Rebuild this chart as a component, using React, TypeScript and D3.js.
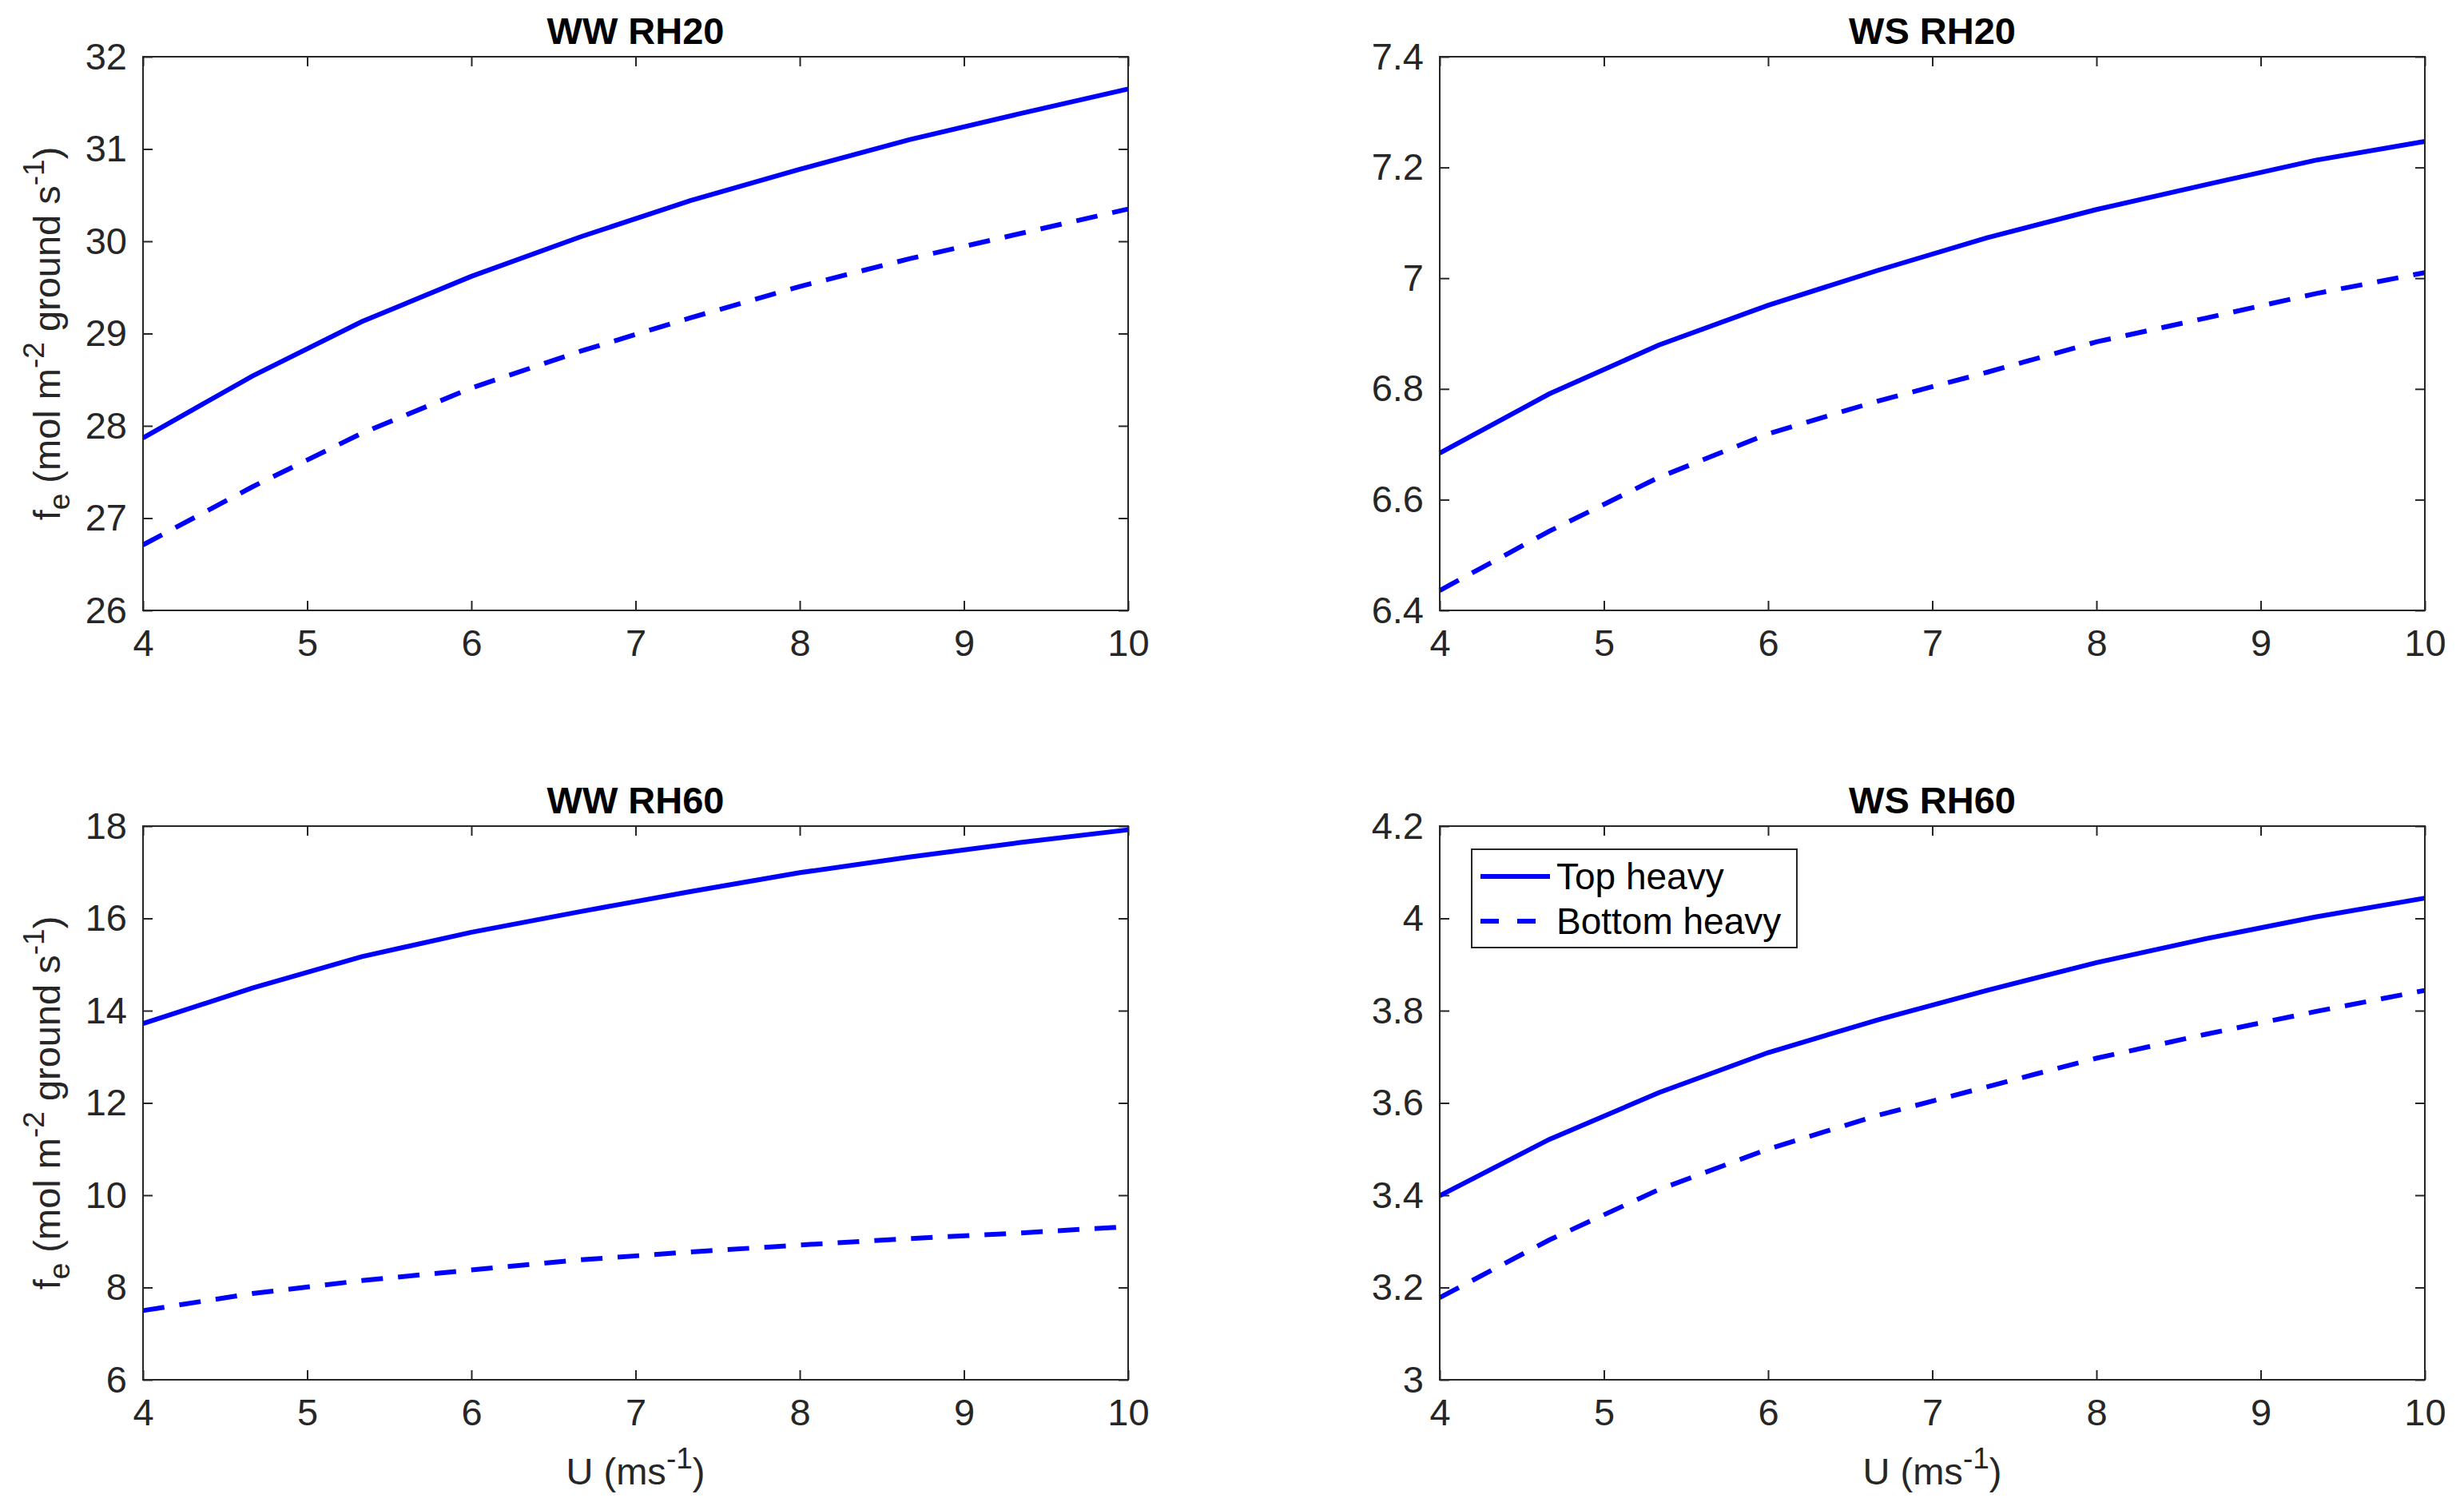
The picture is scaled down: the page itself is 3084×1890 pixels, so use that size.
import React, { useEffect, useRef } from 'react';
import * as d3 from 'd3';

// wind speed samples (10 points, 4..10)
const uValues = [4, 4.667, 5.333, 6, 6.667, 7.333, 8, 8.667, 9.333, 10];
const xTicks = [4, 5, 6, 7, 8, 9, 10];

const panelTitles = ['WW RH20', 'WS RH20', 'WW RH60', 'WS RH60'];

const wwRh20Top = [27.87, 28.54, 29.13, 29.62, 30.05, 30.44, 30.78, 31.1, 31.38, 31.65];
const wwRh20Bottom = [26.71, 27.34, 27.92, 28.41, 28.81, 29.17, 29.51, 29.81, 30.08, 30.35];
const wsRh20Top = [6.684, 6.791, 6.879, 6.951, 7.014, 7.073, 7.124, 7.169, 7.213, 7.247];
const wsRh20Bottom = [6.436, 6.543, 6.64, 6.719, 6.778, 6.83, 6.885, 6.928, 6.972, 7.01];
const wwRh60Top = [13.72, 14.49, 15.17, 15.7, 16.15, 16.58, 16.99, 17.33, 17.64, 17.92];
const wwRh60Bottom = [7.5, 7.87, 8.15, 8.38, 8.6, 8.77, 8.92, 9.06, 9.18, 9.32];
const wsRh60Top = [3.399, 3.521, 3.622, 3.709, 3.78, 3.844, 3.904, 3.956, 4.003, 4.044];
const wsRh60Bottom = [3.178, 3.303, 3.412, 3.5, 3.573, 3.635, 3.697, 3.749, 3.798, 3.844];

const yTicksWwRh20 = [26, 27, 28, 29, 30, 31, 32];
const yTicksWsRh20 = [6.4, 6.6, 6.8, 7, 7.2, 7.4];
const yTicksWwRh60 = [6, 8, 10, 12, 14, 16, 18];
const yTicksWsRh60 = [3, 3.2, 3.4, 3.6, 3.8, 4, 4.2];

const seriesNames = ['Top heavy', 'Bottom heavy'];

const panels = [
  { title: panelTitles[0], top: wwRh20Top, bottom: wwRh20Bottom, yTicks: yTicksWwRh20, col: 0, row: 0 },
  { title: panelTitles[1], top: wsRh20Top, bottom: wsRh20Bottom, yTicks: yTicksWsRh20, col: 1, row: 0 },
  { title: panelTitles[2], top: wwRh60Top, bottom: wwRh60Bottom, yTicks: yTicksWwRh60, col: 0, row: 1 },
  { title: panelTitles[3], top: wsRh60Top, bottom: wsRh60Bottom, yTicks: yTicksWsRh60, col: 1, row: 1 },
];

const WIDTH = 3084;
const HEIGHT = 1890;
const FONT = '"Liberation Sans", Arial, Helvetica, sans-serif';
const TEXT_COLOR = '#262626';
const LINE_COLOR = '#0000ff';

export default function App() {
  const svgRef = useRef<SVGSVGElement>(null);

  useEffect(() => {
    if (!svgRef.current) return;
    const svg = d3.select(svgRef.current);
    svg.selectAll('*').remove();

    const colLeft = [179, 1802];
    const rowTop = [71, 1034];
    const pw = 1233;
    const ph = 693;
    const tickLen = 12;

    panels.forEach((p, i) => {
      const g = svg.append('g')
        .attr('transform', `translate(${colLeft[p.col]}, ${rowTop[p.row]})`);

      const x = d3.scaleLinear().domain([4, 10]).range([0, pw]);
      const y = d3.scaleLinear()
        .domain([p.yTicks[0], p.yTicks[p.yTicks.length - 1]])
        .range([ph, 0]);

      // ticks on all four sides, pointing inward
      const tickFmt = d3.format('~f');
      g.append('g')
        .attr('transform', `translate(0, ${ph})`)
        .call(d3.axisBottom(x).tickValues(xTicks).tickSizeInner(-tickLen).tickSizeOuter(0).tickPadding(24).tickFormat(d => tickFmt(d as number)))
        .call(a => a.select('.domain').remove());
      g.append('g')
        .call(d3.axisTop(x).tickValues(xTicks).tickSizeInner(-tickLen).tickSizeOuter(0).tickFormat(() => ''))
        .call(a => a.select('.domain').remove());
      g.append('g')
        .call(d3.axisLeft(y).tickValues(p.yTicks).tickSizeInner(-tickLen).tickSizeOuter(0).tickPadding(20).tickFormat(d => tickFmt(d as number)))
        .call(a => a.select('.domain').remove());
      g.append('g')
        .attr('transform', `translate(${pw}, 0)`)
        .call(d3.axisRight(y).tickValues(p.yTicks).tickSizeInner(-tickLen).tickSizeOuter(0).tickFormat(() => ''))
        .call(a => a.select('.domain').remove());

      g.selectAll('.tick line').attr('stroke', TEXT_COLOR).attr('stroke-width', 2);
      g.selectAll('.tick text')
        .attr('fill', TEXT_COLOR)
        .attr('font-size', 47)
        .attr('font-family', FONT);

      // series lines
      const line = d3.line<number>()
        .x((_, j) => x(uValues[j]))
        .y(d => y(d));

      g.append('path')
        .datum(p.top)
        .attr('fill', 'none')
        .attr('stroke', LINE_COLOR)
        .attr('stroke-width', 6)
        .attr('d', line);

      g.append('path')
        .datum(p.bottom)
        .attr('fill', 'none')
        .attr('stroke', LINE_COLOR)
        .attr('stroke-width', 6)
        .attr('stroke-dasharray', '27,19')
        .attr('d', line);

      // frame
      g.append('rect')
        .attr('width', pw)
        .attr('height', ph)
        .attr('fill', 'none')
        .attr('stroke', TEXT_COLOR)
        .attr('stroke-width', 2);

      // title
      g.append('text')
        .attr('x', pw / 2)
        .attr('y', -16)
        .attr('text-anchor', 'middle')
        .attr('font-family', FONT)
        .attr('font-weight', 'bold')
        .attr('font-size', 47)
        .attr('fill', '#000')
        .text(p.title);

      // y label on left column
      if (p.col === 0) {
        const yl = g.append('text')
          .attr('transform', `translate(-104, ${ph / 2}) rotate(-90)`)
          .attr('text-anchor', 'middle')
          .attr('font-family', FONT)
          .attr('font-size', 47)
          .attr('fill', TEXT_COLOR);
        yl.append('tspan').text('f');
        yl.append('tspan').attr('font-size', 37).attr('dy', 12).text('e');
        yl.append('tspan').attr('dy', -12).text(' (mol m');
        yl.append('tspan').attr('font-size', 37).attr('dy', -20).text('-2');
        yl.append('tspan').attr('dy', 20).text(' ground s');
        yl.append('tspan').attr('font-size', 37).attr('dy', -20).text('-1');
        yl.append('tspan').attr('dy', 20).text(')');
      }

      // x label on bottom row
      if (p.row === 1) {
        const xl = g.append('text')
          .attr('x', pw / 2)
          .attr('y', ph + 131)
          .attr('text-anchor', 'middle')
          .attr('font-family', FONT)
          .attr('font-size', 47)
          .attr('fill', TEXT_COLOR);
        xl.append('tspan').text('U (ms');
        xl.append('tspan').attr('font-size', 37).attr('dy', -20).text('-1');
        xl.append('tspan').attr('dy', 20).text(')');
      }

      // legend in last panel
      if (i === 3) {
        const lg = g.append('g').attr('transform', 'translate(40, 29)');
        lg.append('rect')
          .attr('width', 407)
          .attr('height', 123)
          .attr('fill', '#fff')
          .attr('stroke', TEXT_COLOR)
          .attr('stroke-width', 2);
        seriesNames.forEach((name, k) => {
          const cy = 34 + k * 56;
          lg.append('line')
            .attr('x1', 11)
            .attr('x2', 98)
            .attr('y1', cy)
            .attr('y2', cy)
            .attr('stroke', LINE_COLOR)
            .attr('stroke-width', 6)
            .attr('stroke-dasharray', k === 1 ? '23,23' : null);
          lg.append('text')
            .attr('x', 106)
            .attr('y', cy + 16)
            .attr('font-family', FONT)
            .attr('font-size', 46)
            .attr('fill', '#000')
            .text(name);
        });
      }
    });
  }, []);

  return (
    <svg
      ref={svgRef}
      width={WIDTH}
      height={HEIGHT}
      style={{ position: 'absolute', left: 0, top: 0, background: '#fff' }}
    />
  );
}
